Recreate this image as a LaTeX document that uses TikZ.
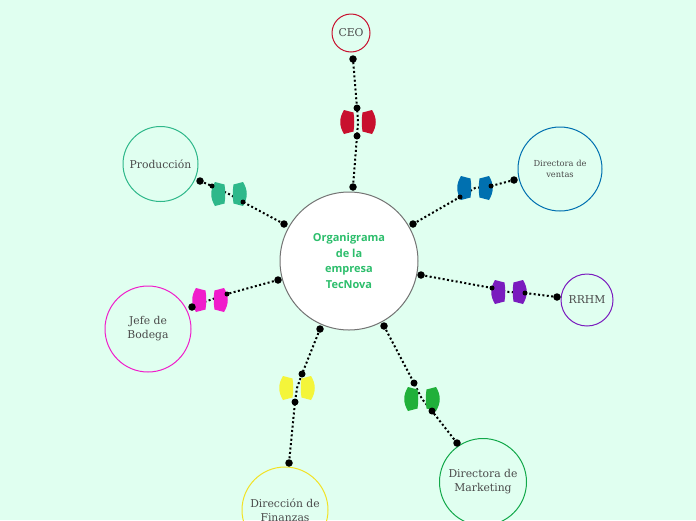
\documentclass[tikz,border=0pt]{standalone}
\usepackage{fontspec}
\setmainfont{DejaVu Serif}
\newfontfamily\titlefont{Open Sans}
\definecolor{bg}{HTML}{E0FFF0}
\definecolor{txt}{HTML}{4A4A4A}
\definecolor{cceo}{HTML}{C8102E}
\definecolor{cprod}{HTML}{2EB88A}
\definecolor{cvent}{HTML}{0070B0}
\definecolor{crrhm}{HTML}{7A1CBE}
\definecolor{cbod}{HTML}{F01DCB}
\definecolor{cfinb}{HTML}{F2E224}
\definecolor{cfin}{HTML}{F4F53A}
\definecolor{cmkt}{HTML}{12A84A}
\definecolor{cmktp}{HTML}{20B03A}
\definecolor{ctitle}{HTML}{2DBE6C}
\newcommand\gripshape[2]{%
  \fill[#2] ($(#1)+(-14,-12)$) -- ($(#1)+(-4.5,-9.5)$) .. controls ($(#1)+(-3.5,-3)$) and ($(#1)+(-3.5,3)$) .. ($(#1)+(-4.5,9.5)$) -- ($(#1)+(-14,12)$) .. controls ($(#1)+(-19,4)$) and ($(#1)+(-19,-4)$) .. cycle;
  \fill[#2] ($(#1)+(14,-12)$) -- ($(#1)+(4.5,-9.5)$) .. controls ($(#1)+(3.5,-3)$) and ($(#1)+(3.5,3)$) .. ($(#1)+(4.5,9.5)$) -- ($(#1)+(14,12)$) .. controls ($(#1)+(19,4)$) and ($(#1)+(19,-4)$) .. cycle;}
\usetikzlibrary{calc}
\begin{document}
\begin{tikzpicture}[x=1pt,y=-1pt,
  sat/.style={circle,draw,line width=1pt,inner sep=0pt,align=center,text=txt,font=\fontsize{10.8}{14}\selectfont},
  link/.style={line width=2pt,dash pattern=on 2pt off 2.4pt,black},
  dotm/.style={fill=black,circle,inner sep=0pt,minimum size=7.5pt}]
\fill[bg] (0,0) rectangle (696,520);
\useasboundingbox (0,0) rectangle (696,520);
% nodes
\node[circle,draw=gray!110,line width=1pt,fill=white,minimum size=138pt,inner sep=0pt,align=center,text=ctitle,font=\titlefont\bfseries\fontsize{11}{15.5}\selectfont] (main) at (349,261) {Organigrama\\de la\\empresa\\TecNova};
\node[sat,draw=cceo,minimum size=38pt] (ceo) at (351,33) {CEO};
\node[sat,draw=cprod,minimum size=75pt] (prod) at (160.5,164) {Producción};
\node[sat,draw=cvent,minimum size=84pt,font=\fontsize{8.3}{11}\selectfont] (vent) at (560,169) {Directora de\\ventas};
\node[sat,draw=crrhm,minimum size=52pt] (rrhm) at (587,300) {RRHM};
\node[sat,draw=cbod,minimum size=86pt] (bod) at (148,329) {Jefe de\\Bodega};
\node[sat,draw=cfinb,minimum size=86pt] (fin) at (285,510) {Dirección de\\Finanzas};
\node[sat,draw=cmkt,minimum size=87pt] (mkt) at (483,482) {Directora de\\Marketing};
% coordinates
\coordinate (m1) at (353,187); \coordinate (a1) at (357,136); \coordinate (s1) at (358,122); \coordinate (b1) at (357,108); \coordinate (e1) at (353,59);
\coordinate (m2) at (284,224); \coordinate (a2) at (243,202); \coordinate (s2) at (229,194); \coordinate (b2) at (212,186); \coordinate (e2) at (200,181);
\coordinate (m3) at (413,224); \coordinate (a3) at (460,197); \coordinate (s3) at (475,188); \coordinate (b3) at (491,186); \coordinate (e3) at (514,180);
\coordinate (m4) at (421,275); \coordinate (a4) at (492,288); \coordinate (s4) at (509,292); \coordinate (b4) at (525,293); \coordinate (e4) at (557,297);
\coordinate (m5) at (278,280); \coordinate (a5) at (227,294); \coordinate (s5) at (210,300); \coordinate (b5) at (196,305); \coordinate (e5) at (192,307);
\coordinate (m6) at (320,329); \coordinate (a6) at (302,374); \coordinate (s6) at (297,388); \coordinate (b6) at (295,402); \coordinate (e6) at (289,463);
\coordinate (m7) at (384,326); \coordinate (a7) at (414,383); \coordinate (s7) at (422,399); \coordinate (b7) at (432,411); \coordinate (e7) at (457,443);
% links
\foreach \i in {1,...,7}{
  \draw[link] (m\i) -- (a\i) -- (s\i) -- (b\i) -- (e\i);
}
\gripshape{s1}{cceo}
\gripshape{s2}{cprod}
\gripshape{s3}{cvent}
\gripshape{s4}{crrhm}
\gripshape{s5}{cbod}
\gripshape{s6}{cfin}
\gripshape{s7}{cmktp}
\foreach \i in {1,...,7}{
  \node[dotm] at (m\i) {};
  \node[dotm] at (e\i) {};
}
\foreach \p in {a1,b1,a6,b6,a7,b7}{\node[dotm,minimum size=7pt] at (\p) {};}
\foreach \p in {a2,b2,a3,b3,a4,b4,a5}{\node[dotm,minimum size=5pt] at (\p) {};}
\end{tikzpicture}
\end{document}
